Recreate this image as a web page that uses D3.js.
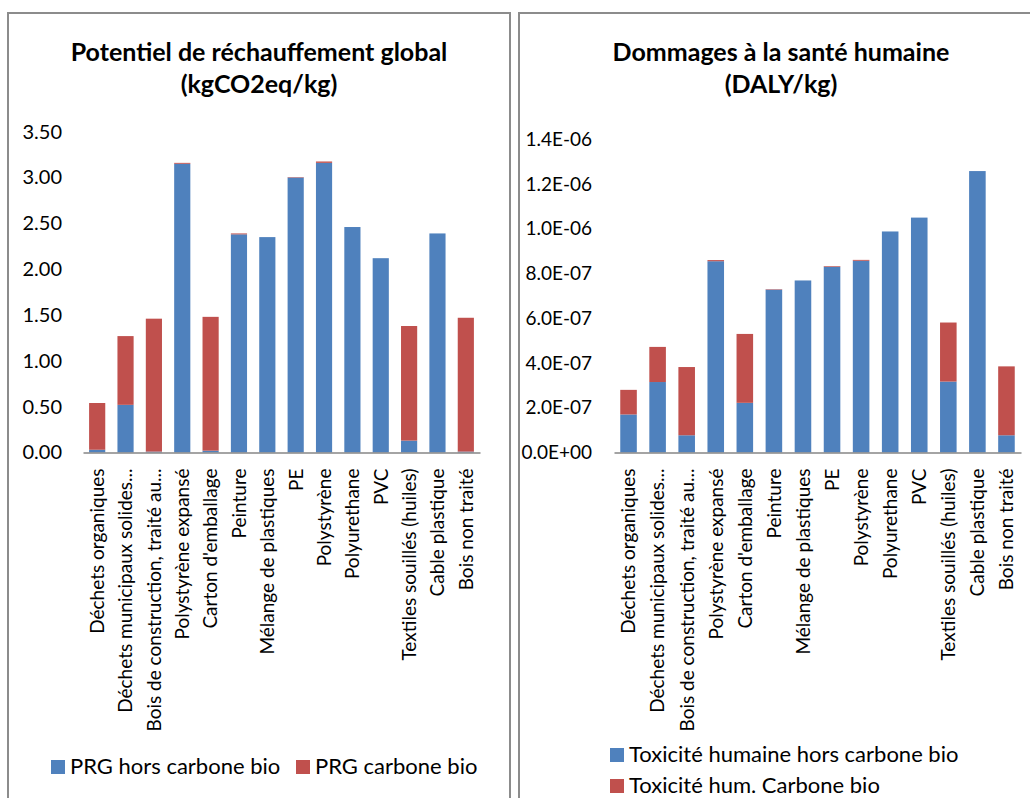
<!DOCTYPE html>
<html>
<head>
<meta charset="utf-8">
<script src="https://cdn.jsdelivr.net/npm/d3@7"></script>
<style>
  html, body { margin: 0; padding: 0; background: #ffffff; }
  svg { display: block; }
  text { font-family: Lato, "Open Sans", sans-serif; fill: #000; }
</style>
</head>
<body>
<svg id="chart" width="1030" height="798"></svg>
<script>
const categories = [
  "Déchets organiques",
  "Déchets municipaux solides...",
  "Bois de construction, traité au...",
  "Polystyrène expansé",
  "Carton d'emballage",
  "Peinture",
  "Mélange de plastiques",
  "PE",
  "Polystyrène",
  "Polyurethane",
  "PVC",
  "Textiles souillés (huiles)",
  "Cable plastique",
  "Bois non traité"
];

// Potentiel de réchauffement global (kgCO2eq/kg)
const prgHorsCarbone = [0.03, 0.52, 0.01, 3.15, 0.02, 2.38, 2.35, 3.00, 3.16, 2.46, 2.12, 0.13, 2.39, 0.01];
const prgCarboneBio  = [0.51, 0.75, 1.45, 0.01, 1.46, 0.01, 0.00, 0.005, 0.015, 0.00, 0.00, 1.25, 0.00, 1.46];
const prgTicks = [0, 0.5, 1.0, 1.5, 2.0, 2.5, 3.0, 3.5];
const prgTickLabels = ["0.00", "0.50", "1.00", "1.50", "2.00", "2.50", "3.00", "3.50"];

// Dommages à la santé humaine (DALY/kg)
const toxHorsCarbone = [1.70e-7, 3.15e-7, 0.77e-7, 8.55e-7, 2.22e-7, 7.28e-7, 7.69e-7, 8.30e-7, 8.57e-7, 9.88e-7, 10.50e-7, 3.17e-7, 12.58e-7, 0.77e-7];
const toxCarboneBio  = [1.10e-7, 1.57e-7, 3.05e-7, 0.05e-7, 3.08e-7, 0.02e-7, 0.00, 0.03e-7, 0.04e-7, 0.00, 0.00, 2.64e-7, 0.00, 3.08e-7];
const toxTicks = [0, 2e-7, 4e-7, 6e-7, 8e-7, 1.0e-6, 1.2e-6, 1.4e-6];
const toxTickLabels = ["0.0E+00", "2.0E-07", "4.0E-07", "6.0E-07", "8.0E-07", "1.0E-06", "1.2E-06", "1.4E-06"];

const colorHors = "#4F81BD";
const colorBio = "#C0504D";
const axisColor = "#868686";
const frameColor = "#8C8C8C";

const svg = d3.select("#chart");

function drawPanel(cfg) {
  const g = svg.append("g");
  // frame
  g.append("rect")
    .attr("x", cfg.frame[0]).attr("y", cfg.frame[1])
    .attr("width", cfg.frame[2]).attr("height", cfg.frame[3])
    .attr("fill", "#fff").attr("stroke", frameColor).attr("stroke-width", 2);

  // title
  const t = g.append("text")
    .attr("x", cfg.titleX).attr("text-anchor", "middle")
    .style("font-weight", "bold").style("font-size", "25px");
  t.append("tspan").attr("x", cfg.titleX).attr("y", 61).text(cfg.title[0]);
  t.append("tspan").attr("x", cfg.titleX).attr("y", 93).text(cfg.title[1]);

  const x = d3.scaleBand().domain(categories).range([cfg.x0, cfg.x1])
    .paddingInner(0.43).paddingOuter(0.215);
  const y = d3.scaleLinear().domain([0, cfg.ymax]).range([452.5, cfg.ytop]);

  // y axis (labels only)
  const yAxis = d3.axisLeft(y).tickValues(cfg.ticks)
    .tickFormat((d, i) => cfg.tickLabels[i]).tickSize(0).tickPadding(0);
  const ya = g.append("g").attr("transform", `translate(${cfg.labelX},0)`).call(yAxis);
  ya.select(".domain").remove();
  ya.selectAll("text").style("font-size", cfg.tickFont).style("font-family", "Lato, sans-serif").attr("fill", "#000");

  // stacked bars
  const data = categories.map((c, i) => ({ c, a: cfg.s1[i], b: cfg.s2[i] }));
  const stack = d3.stack().keys(["a", "b"])(data);
  const colors = [colorHors, colorBio];
  stack.forEach((layer, li) => {
    g.append("g").selectAll("rect").data(layer).join("rect")
      .attr("x", d => x(d.data.c))
      .attr("width", x.bandwidth())
      .attr("y", d => y(d[1]))
      .attr("height", d => Math.max(0, y(d[0]) - y(d[1])))
      .attr("fill", colors[li]);
  });

  // x axis
  const xAxis = d3.axisBottom(x).tickSize(0).tickPadding(0);
  const xa = g.append("g").attr("transform", "translate(0,452.5)").call(xAxis);
  xa.select(".domain").attr("stroke", axisColor).attr("stroke-width", 1.3);
  xa.selectAll("text")
    .style("font-size", "19px").style("font-family", "Lato, sans-serif").attr("fill", "#000")
    .attr("text-anchor", "end")
    .attr("transform", "translate(0,16) rotate(-90)")
    .attr("x", 0).attr("y", 0).attr("dy", "0.36em");

  // legend
  cfg.legend.forEach((L) => {
    g.append("rect").attr("x", L.x).attr("y", L.y).attr("width", 14).attr("height", 14).attr("fill", L.color);
    g.append("text").attr("x", L.x + 19).attr("y", L.y + 14)
      .style("font-size", "22px").text(L.label);
  });
}

drawPanel({
  frame: [8, 13, 502, 800],
  title: ["Potentiel de réchauffement global", "(kgCO2eq/kg)"],
  titleX: 259,
  x0: 83, x1: 480,
  ymax: 3.5, ytop: 131.7,
  labelX: 62,
  tickFont: "20px",
  ticks: prgTicks, tickLabels: prgTickLabels,
  s1: prgHorsCarbone, s2: prgCarboneBio,
  legend: [
    { x: 51, y: 760, color: colorHors, label: "PRG hors carbone bio" },
    { x: 296, y: 760, color: colorBio, label: "PRG carbone bio" }
  ]
});

drawPanel({
  frame: [519, 13, 540, 800],
  title: ["Dommages à la santé humaine", "(DALY/kg)"],
  titleX: 781,
  x0: 614, x1: 1021,
  ymax: 1.4e-6, ytop: 139.3,
  labelX: 592,
  tickFont: "19px",
  ticks: toxTicks, tickLabels: toxTickLabels,
  s1: toxHorsCarbone, s2: toxCarboneBio,
  legend: [
    { x: 610, y: 748, color: colorHors, label: "Toxicité humaine hors carbone bio" },
    { x: 610, y: 779, color: colorBio, label: "Toxicité hum. Carbone bio" }
  ]
});
</script>
</body>
</html>
